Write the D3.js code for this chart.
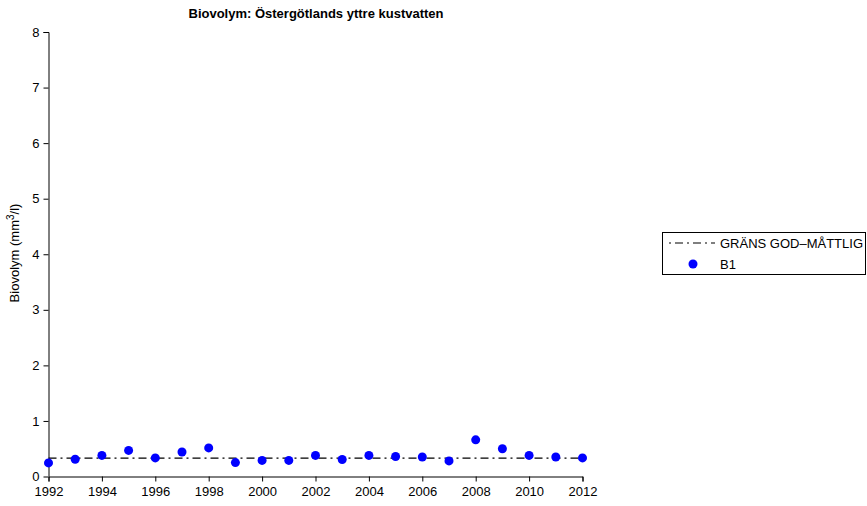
<!DOCTYPE html>
<html>
<head>
<meta charset="utf-8">
<style>
body { margin:0; background:#fff; }
svg text { font-family: "Liberation Sans", Arial, sans-serif; }
</style>
</head>
<body>
<svg id="svg"></svg>
<script src="https://cdnjs.cloudflare.com/ajax/libs/d3/7.8.5/d3.min.js"></script>
<script>
var years = [1992,1993,1994,1995,1996,1997,1998,1999,2000,2001,2002,2003,2004,2005,2006,2007,2008,2009,2010,2011,2012]
var b1 = [0.245,0.31,0.38,0.47,0.335,0.44,0.515,0.25,0.29,0.29,0.38,0.305,0.38,0.36,0.35,0.28,0.66,0.50,0.38,0.35,0.335]
var limitValue = 0.33
var xTicks = [1992,1994,1996,1998,2000,2002,2004,2006,2008,2010,2012]
var yTicks = [0,1,2,3,4,5,6,7,8]
var legendLabels = ['GRÄNS GOD\u2013MÅTTLIG', 'B1']

var width = 867, height = 506
var svg = d3.select('#svg').attr('width', width).attr('height', height)

var x = d3.scaleLinear().domain([1992, 2012]).range([48.5, 582.5])
var y = d3.scaleLinear().domain([0, 8]).range([476.5, 32])

var xAxis = d3.axisBottom(x).tickValues(xTicks).tickFormat(d3.format('d')).tickSize(5).tickPadding(5)
var yAxis = d3.axisLeft(y).tickValues(yTicks).tickSize(5).tickPadding(4)

var gx = svg.append('g').attr('transform', 'translate(0,476.5)').call(xAxis)
var gy = svg.append('g').attr('transform', 'translate(48.5,0)').call(yAxis)
;[gx, gy].forEach(function(g){
  g.selectAll('text').style('font-size', '13px').attr('fill', '#000')
  g.selectAll('line').attr('stroke', '#000')
  g.select('.domain').attr('stroke', '#000')
  g.attr('font-family', null)
})
gy.select('.domain').attr('d', 'M-5,32.5H0.5V476.5')

// limit line
svg.append('line')
  .attr('x1', x(1992)).attr('x2', x(2012))
  .attr('y1', y(limitValue)).attr('y2', y(limitValue))
  .attr('stroke', '#000').attr('stroke-width', 1.2)
  .attr('stroke-dasharray', '8,4,2,4')

svg.selectAll('circle.pt').data(years).enter().append('circle')
  .attr('class', 'pt')
  .attr('cx', function(d){ return x(d) })
  .attr('cy', function(d, i){ return y(b1[i]) })
  .attr('r', 4.5)
  .attr('fill', '#0000ff')

svg.append('text').attr('x', 316).attr('y', 18)
  .attr('text-anchor', 'middle').style('font-size', '13px').style('font-weight', 'bold')
  .text('Biovolym: Östergötlands yttre kustvatten')

var yl = svg.append('text').attr('transform', 'translate(19,253) rotate(-90)')
  .attr('text-anchor', 'middle').style('font-size', '13px')
yl.append('tspan').text('Biovolym (mm')
yl.append('tspan').attr('dy', -5).style('font-size', '10px').text('3')
yl.append('tspan').attr('dy', 5).text('/l)')

// legend
var lg = svg.append('g')
lg.append('rect').attr('x', 662.5).attr('y', 232.5).attr('width', 203).attr('height', 42)
  .attr('fill', 'none').attr('stroke', '#000')
lg.append('line').attr('x1', 669).attr('x2', 715).attr('y1', 243).attr('y2', 243)
  .attr('stroke', '#000').attr('stroke-width', 1.2).attr('stroke-dasharray', '2,4,8,4')
lg.append('circle').attr('cx', 693).attr('cy', 264).attr('r', 4.5).attr('fill', '#0000ff')
lg.selectAll('text').data(legendLabels).enter().append('text')
  .attr('x', 720).attr('y', function(d, i){ return 248 + i * 21 })
  .style('font-size', '13px').text(function(d){ return d })
</script>
</body>
</html>
